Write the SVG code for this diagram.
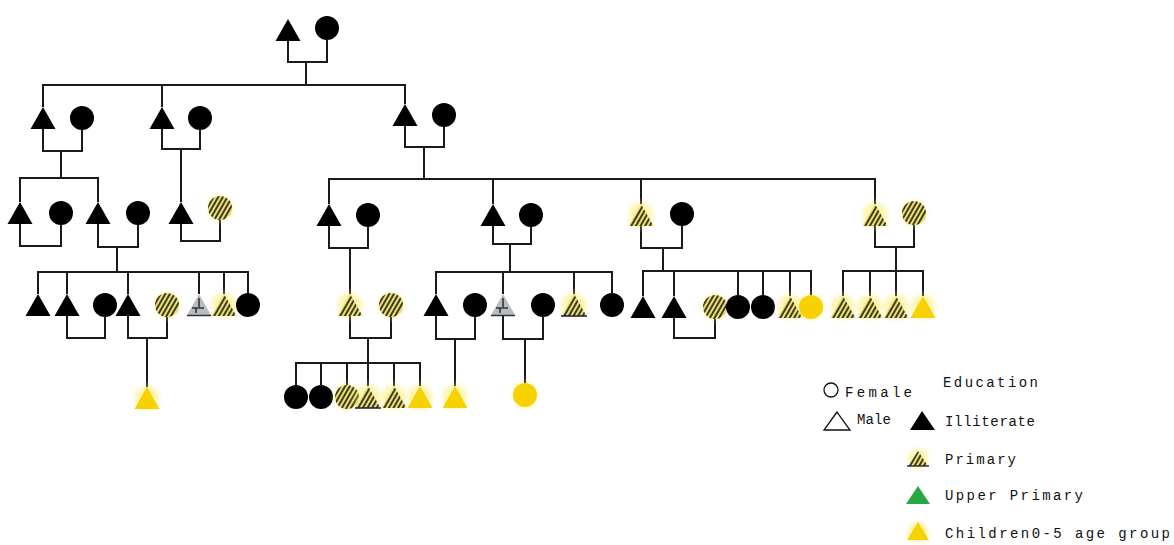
<svg xmlns="http://www.w3.org/2000/svg" xmlns:xlink="http://www.w3.org/1999/xlink" width="1174" height="545" viewBox="0 0 1174 545">
<style>
.ln{stroke:#1a1a1a;stroke-width:2;fill:none}
.blk{fill:#000}
.hat{fill:url(#hatch)}
.yel{fill:#f7d200}
.gry{fill:#b9bdbf}
.lg{font-family:"Liberation Mono","DejaVu Sans Mono",monospace;font-size:14px;fill:#111}
</style>
<defs>
<pattern id="hatch" patternUnits="userSpaceOnUse" width="4" height="4" patternTransform="rotate(30)">
<rect width="4" height="4" fill="#ece070"/>
<line x1="1" y1="0" x2="1" y2="4" stroke="#111" stroke-width="1.6"/>
</pattern>
<radialGradient id="glow">
<stop offset="0" stop-color="#f5dc00" stop-opacity="0.55"/>
<stop offset="0.6" stop-color="#f8e640" stop-opacity="0.3"/>
<stop offset="1" stop-color="#fff" stop-opacity="0"/>
</radialGradient>
<polygon id="T" class="blk" points="0,-11 -12.5,11 12.5,11"/>
<circle id="C" class="blk" r="12"/>
<g id="TH"><circle r="18" fill="url(#glow)"/><polygon class="hat" points="0,-11 -12.5,11 12.5,11"/></g>
<g id="THU"><circle r="18" fill="url(#glow)"/><polygon class="hat" points="0,-11 -12.5,11 12.5,11"/><line x1="-13" y1="11" x2="13" y2="11" stroke="#1a1a40" stroke-width="1.5"/></g>
<g id="CH"><circle r="18" fill="url(#glow)"/><circle class="hat" r="12"/></g>
<g id="TY"><circle r="18" fill="url(#glow)"/><polygon class="yel" points="0,-11 -12.5,11 12.5,11"/></g>
<g id="CY"><circle r="18" fill="url(#glow)"/><circle class="yel" r="12"/></g>
<g id="TG"><polygon class="gry" points="0,-11 -12.5,11 12.5,11"/><path d="M0,-7 V2 M-7,3 H5 M-3,3 V8 M-12,10.5 H12" stroke="#333" stroke-width="1.6" fill="none"/></g>
</defs>
<rect width="1174" height="545" fill="#fff"/>

<g id="connectors">
<path class="ln" d="M288,41 V62 H327 V40 M306,62 V85"/>
<path class="ln" d="M43,107 V85 H405 V104 M162,85 V107"/>
<path class="ln" d="M43,129 V151 H82 V130 M61,151 V178 M20,202 V178 H98 V202"/>
<path class="ln" d="M162,129 V149 H200 V130 M181,149 V202"/>
<path class="ln" d="M405,126 V147 H444 V127 M424,147 V179 M329,204 V179 H875 V204 M493,179 V204 M641,179 V204"/>
<path class="ln" d="M20,224 V246 H61 V225"/>
<path class="ln" d="M98,224 V247 H138 V225 M117,247 V272"/>
<path class="ln" d="M38,294 V272 H248 V293 M67,294 V272 M128,294 V272 M199,294 V272 M224,294 V272"/>
<path class="ln" d="M67,316 V338 H105 V317 M128,316 V338 H167 V317 M147,338 V387"/>
<path class="ln" d="M181,224 V241 H220 V220"/>
<path class="ln" d="M329,226 V248 H368 V227 M350,248 V294"/>
<path class="ln" d="M350,316 V338 H391 V317 M368,338 V363 M296,385 V363 H420 V386 M321,385 V363 M347,385 V363 M368,386 V363 M394,386 V363"/>
<path class="ln" d="M493,226 V244 H531 V227 M510,244 V272"/>
<path class="ln" d="M436,294 V272 H612 V293 M503,294 V272 M574,294 V272"/>
<path class="ln" d="M436,316 V339 H475 V317 M455,339 V386 M503,316 V339 H543 V317 M525,339 V383"/>
<path class="ln" d="M641,226 V248 H682 V226 M663,248 V271"/>
<path class="ln" d="M643,296 V271 H811 V295 M674,296 V271 M738,295 V271 M763,295 V271 M790,296 V271"/>
<path class="ln" d="M674,318 V338 H715 V319"/>
<path class="ln" d="M875,226 V247 H914 V225 M896,247 V271 M843,296 V271 H923 V296 M870,296 V271 M896,296 V271"/>
</g>

<g id="gen1">
<g id="g1-m"><use href="#T" x="288" y="30"/></g>
<g id="g1-f"><use href="#C" x="327" y="28"/></g>
</g>
<g id="gen2">
<g id="A-m"><use href="#T" x="43" y="118"/></g>
<g id="A-f"><use href="#C" x="82" y="118"/></g>
<g id="B-m"><use href="#T" x="162" y="118"/></g>
<g id="B-f"><use href="#C" x="200" y="118"/></g>
<g id="C-m"><use href="#T" x="405" y="115"/></g>
<g id="C-f"><use href="#C" x="444" y="115"/></g>
</g>
<g id="gen3">
<g id="A1-m"><use href="#T" x="20" y="213"/></g>
<g id="A1-f"><use href="#C" x="61" y="213"/></g>
<g id="A2-m"><use href="#T" x="98" y="213"/></g>
<g id="A2-f"><use href="#C" x="138" y="213"/></g>
<g id="B1-m"><use href="#T" x="181" y="213"/></g>
<g id="B1-f"><use href="#CH" x="220" y="208"/></g>
<g id="C1-m"><use href="#T" x="329" y="215"/></g>
<g id="C1-f"><use href="#C" x="368" y="215"/></g>
<g id="C2-m"><use href="#T" x="493" y="215"/></g>
<g id="C2-f"><use href="#C" x="531" y="215"/></g>
<g id="C3-m"><use href="#TH" x="641" y="215"/></g>
<g id="C3-f"><use href="#C" x="682" y="214"/></g>
<g id="C4-m"><use href="#TH" x="875" y="215"/></g>
<g id="C4-f"><use href="#CH" x="914" y="213"/></g>
</g>
<g id="gen4">
<g id="a1"><use href="#T" x="38" y="305"/></g>
<g id="a2"><use href="#T" x="67" y="305"/></g>
<g id="a2s"><use href="#C" x="105" y="305"/></g>
<g id="a3"><use href="#T" x="128" y="305"/></g>
<g id="a3s"><use href="#CH" x="167" y="305"/></g>
<g id="a4"><use href="#TG" x="199" y="305"/></g>
<g id="a5"><use href="#TH" x="224" y="305"/></g>
<g id="a6"><use href="#C" x="248" y="305"/></g>
<g id="c1-1"><use href="#TH" x="350" y="305"/></g>
<g id="c1-1s"><use href="#CH" x="391" y="305"/></g>
<g id="c2-1"><use href="#T" x="436" y="305"/></g>
<g id="c2-1s"><use href="#C" x="475" y="305"/></g>
<g id="c2-2"><use href="#TG" x="503" y="305"/></g>
<g id="c2-2s"><use href="#C" x="543" y="305"/></g>
<g id="c2-3"><use href="#THU" x="574" y="305"/></g>
<g id="c2-4"><use href="#C" x="612" y="305"/></g>
<g id="c3-1"><use href="#T" x="643" y="307"/></g>
<g id="c3-2"><use href="#T" x="674" y="307"/></g>
<g id="c3-2s"><use href="#CH" x="715" y="307"/></g>
<g id="c3-3"><use href="#C" x="738" y="307"/></g>
<g id="c3-4"><use href="#C" x="763" y="307"/></g>
<g id="c3-5"><use href="#TH" x="790" y="307"/></g>
<g id="c3-6"><use href="#CY" x="811" y="307"/></g>
<g id="c4-1"><use href="#TH" x="843" y="307"/></g>
<g id="c4-2"><use href="#TH" x="870" y="307"/></g>
<g id="c4-3"><use href="#TH" x="896" y="307"/></g>
<g id="c4-4"><use href="#TY" x="923" y="307"/></g>
</g>
<g id="gen5">
<g id="a3-1"><use href="#TY" x="147" y="398"/></g>
<g id="c1-k1"><use href="#C" x="296" y="397"/></g>
<g id="c1-k2"><use href="#C" x="321" y="397"/></g>
<g id="c1-k3"><use href="#CH" x="347" y="397"/></g>
<g id="c1-k4"><use href="#THU" x="368" y="397"/></g>
<g id="c1-k5"><use href="#TH" x="394" y="397"/></g>
<g id="c1-k6"><use href="#TY" x="420" y="397"/></g>
<g id="c2-1-k"><use href="#TY" x="455" y="397"/></g>
<g id="c2-2-k"><use href="#CY" x="525" y="395"/></g>
</g>

<g id="legend">
<circle cx="831" cy="390" r="7" fill="none" stroke="#111" stroke-width="1.3"/>
<text class="lg" x="845" y="397" textLength="67" lengthAdjust="spacing">Female</text>
<polygon points="837,412 824,430 850,430" fill="none" stroke="#111" stroke-width="1.3"/>
<text class="lg" x="857" y="424" textLength="34" lengthAdjust="spacing">Male</text>
<text class="lg" x="943" y="387" textLength="95" lengthAdjust="spacing">Education</text>
<polygon class="blk" points="922,411 910,430 935,430"/>
<text class="lg" x="945" y="426" textLength="90" lengthAdjust="spacing">Illiterate</text>
<circle cx="918" cy="459" r="15" fill="url(#glow)"/>
<polygon class="hat" points="918,451 908,466 928,466"/>
<line x1="907" y1="466" x2="929" y2="466" stroke="#1a1a40" stroke-width="1.3"/>
<text class="lg" x="945" y="464" textLength="71" lengthAdjust="spacing">Primary</text>
<polygon fill="#27a844" points="918,486 906,504 930,504"/>
<text class="lg" x="945" y="500" textLength="138" lengthAdjust="spacing">Upper Primary</text>
<circle cx="918" cy="532" r="15" fill="url(#glow)"/>
<polygon class="yel" points="918,522 907,540 929,540"/>
<text class="lg" x="945" y="538" textLength="225" lengthAdjust="spacing">Children0-5 age group</text>
</g>
</svg>
